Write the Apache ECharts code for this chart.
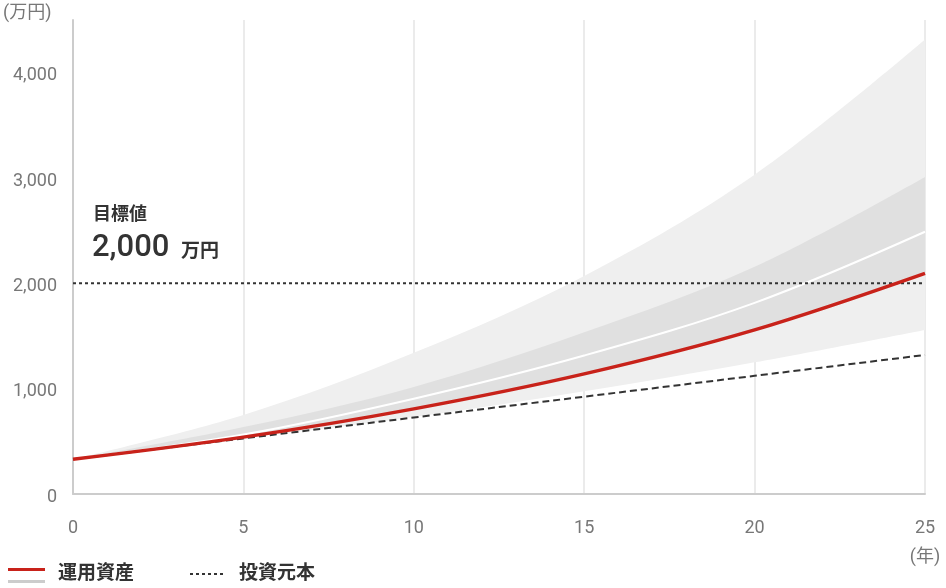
<!DOCTYPE html>
<html>
<head>
<meta charset="utf-8">
<script src="https://cdn.jsdelivr.net/npm/echarts@6/dist/echarts.min.js"></script>
<style>
html,body{margin:0;padding:0;background:#fff;}
#chart{width:946px;height:588px;}
</style>
</head>
<body>
<div id="chart"></div>
<script>
// ---- data ----
const years = [0, 5, 10, 15, 20, 25];
const outerUpper = [330, 750, 1340, 2070, 3030, 4314];
const innerUpper = [330, 635, 1017, 1535, 2157, 3010];
const medianLine = [330, 565, 905, 1315, 1815, 2490];
const assetLine = [330, 540, 808, 1140, 1558, 2095];
const outerLower = [330, 528, 730, 975, 1250, 1558];
const principal = [330, 528, 726, 924, 1122, 1320];
const targetValue = 2000;
const yTicks = [0, 1000, 2000, 3000, 4000];

const diff = (a, b) => a.map((v, i) => v - b[i]);

const chart = echarts.init(document.getElementById('chart'), null, {renderer: 'canvas'});
const font = 'Roboto, "Noto Sans CJK JP", sans-serif';
const SM = 0.35;

const option = {
  animation: false,
  backgroundColor: '#fff',
  grid: {left: 73, right: 21, top: 20, bottom: 94},
  xAxis: {
    type: 'category', data: years.map(String), boundaryGap: false,
    axisLine: {show: true, lineStyle: {color: '#cccccc', width: 2}},
    axisTick: {show: false},
    splitLine: {show: true, interval: 0, lineStyle: {color: '#ebebeb', width: 2}},
    axisLabel: {
      color: '#777', fontSize: 18, fontFamily: font, margin: 20, interval: 0,
      lineHeight: 29, verticalAlign: 'top',
      formatter: v => (v === String(years[years.length - 1]) ? v + '\n(年)' : v)
    }
  },
  yAxis: {
    type: 'value', min: 0, max: 4500, interval: 500,
    axisLine: {show: true, lineStyle: {color: '#cccccc', width: 2}},
    axisTick: {show: false},
    splitLine: {show: false},
    axisLabel: {
      margin: 16,
      formatter: v => yTicks.includes(v) ? '{a|' + v.toLocaleString('en-US') + '}' : '',
      rich: {a: {color: '#777', fontSize: 18, fontFamily: font, padding: [6, 0, 0, 0]}}
    }
  },
  series: [
    {type: 'line', stack: 'outer', data: outerLower, smooth: SM, symbol: 'none',
     lineStyle: {opacity: 0}, z: 1, silent: true},
    {type: 'line', stack: 'outer', data: diff(outerUpper, outerLower), smooth: SM, symbol: 'none',
     lineStyle: {opacity: 0}, areaStyle: {color: '#efefef', opacity: 1}, z: 1, silent: true},
    {type: 'line', stack: 'inner', data: assetLine, smooth: SM, symbol: 'none',
     lineStyle: {opacity: 0}, z: 2, silent: true},
    {type: 'line', stack: 'inner', data: diff(innerUpper, assetLine), smooth: SM, symbol: 'none',
     lineStyle: {opacity: 0}, areaStyle: {color: '#e0e0e0', opacity: 1}, z: 2, silent: true},
    {type: 'line', data: medianLine, smooth: SM, symbol: 'none',
     lineStyle: {color: '#ffffff', width: 2}, z: 3},
    {type: 'line', data: years.map(() => targetValue), symbol: 'none',
     lineStyle: {color: '#333', width: 2, type: [3, 3]}, z: 4},
    {type: 'line', data: principal, smooth: SM, symbol: 'none',
     lineStyle: {color: '#333', width: 2, type: [7, 4]}, z: 5},
    {type: 'line', data: assetLine, smooth: SM, symbol: 'none',
     lineStyle: {color: '#c8221a', width: 3.5}, z: 6}
  ],
  graphic: [
    {type: 'text', left: 3, top: 5, style: {text: '(万円)', fill: '#777', font: '18px ' + font}},
    {type: 'text', left: 93, top: 207, style: {text: '目標値', fill: '#333', font: 'bold 18px ' + font}},
    {type: 'text', left: 92, top: 233, style: {text: targetValue.toLocaleString('en-US'), fill: '#333', font: '500 31px ' + font}},
    {type: 'text', left: 181, top: 243, style: {text: '万円', fill: '#333', font: 'bold 19px ' + font}},
    {type: 'rect', shape: {x: 8, y: 568, width: 37, height: 3}, style: {fill: '#c8221a'}},
    {type: 'rect', shape: {x: 8, y: 580, width: 37, height: 3}, style: {fill: '#cccccc'}},
    {type: 'text', left: 58, top: 565, style: {text: '運用資産', fill: '#333', font: 'bold 19px ' + font}},
    {type: 'line', shape: {x1: 190, y1: 574, x2: 226, y2: 574}, style: {stroke: '#333', lineWidth: 2, lineDash: [3, 3]}},
    {type: 'text', left: 239, top: 565, style: {text: '投資元本', fill: '#333', font: 'bold 19px ' + font}}
  ]
};
chart.setOption(option);
</script>
</body>
</html>
